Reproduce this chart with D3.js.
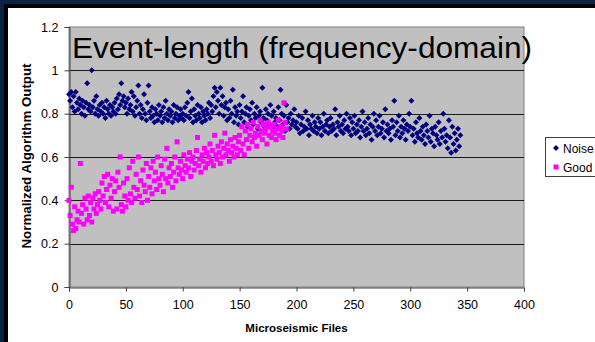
<!DOCTYPE html>
<html>
<head>
<meta charset="utf-8">
<script src="https://cdn.jsdelivr.net/npm/d3@7/dist/d3.min.js"></script>
<style>
  html, body { margin: 0; padding: 0; background: #ffffff; }
  svg { display: block; }
  text { font-family: Arial, "Liberation Sans", sans-serif; }
</style>
</head>
<body>
<svg id="chart" width="595" height="342"></svg>
<script>
// ---- data (x = file index, starting at 0) ----
const noiseValues = [
  0.89,0.86,0.90,0.83,0.88,0.81,0.90,0.85,0.82,0.87,
  0.84,0.80,0.86,0.83,0.79,0.85,0.94,0.82,0.84,0.81,
  1.00,0.83,0.86,0.80,0.88,0.82,0.79,0.84,0.81,0.85,
  0.80,0.83,0.78,0.86,0.82,0.80,0.84,0.79,0.83,0.81,
  0.85,0.80,0.87,0.82,0.89,0.84,0.94,0.86,0.88,0.83,
  0.85,0.80,0.87,0.82,0.84,0.90,0.81,0.88,0.79,0.83,
  0.86,0.93,0.80,0.84,0.78,0.82,0.89,0.80,0.77,0.85,
  0.93,0.81,0.78,0.83,0.79,0.76,0.82,0.80,0.77,0.84,
  0.79,0.81,0.76,0.83,0.78,0.86,0.80,0.77,0.82,0.79,
  0.81,0.76,0.84,0.78,0.80,0.83,0.77,0.79,0.82,0.78,
  0.80,0.77,0.83,0.79,0.85,0.90,0.78,0.81,0.87,0.76,
  0.82,0.79,0.77,0.84,0.80,0.78,0.83,0.76,0.81,0.79,
  0.77,0.82,0.80,0.85,0.78,0.84,0.81,0.88,0.92,0.83,
  0.90,0.86,0.80,0.92,0.84,0.88,0.79,0.83,0.85,0.77,
  0.82,0.78,0.86,0.80,0.91,0.76,0.83,0.79,0.81,0.75,
  0.84,0.78,0.81,0.88,0.76,0.80,0.83,0.74,0.79,0.82,
  0.77,0.85,0.75,0.80,0.78,0.83,0.73,0.79,0.81,0.76,
  0.92,0.78,0.74,0.82,0.77,0.80,0.75,0.84,0.79,0.73,
  0.81,0.76,0.78,0.74,0.83,0.77,0.91,0.80,0.75,0.79,
  0.72,0.84,0.76,0.78,0.73,0.80,0.75,0.77,0.82,0.74,
  0.76,0.73,0.79,0.71,0.75,0.78,0.72,0.74,0.81,0.73,
  0.77,0.70,0.75,0.73,0.79,0.72,0.76,0.74,0.71,0.78,
  0.73,0.76,0.70,0.74,0.80,0.72,0.75,0.77,0.71,0.74,
  0.78,0.72,0.75,0.73,0.82,0.70,0.76,0.74,0.79,0.72,
  0.75,0.71,0.77,0.73,0.80,0.74,0.72,0.78,0.70,0.76,
  0.73,0.79,0.71,0.75,0.72,0.77,0.69,0.74,0.81,0.72,
  0.76,0.70,0.73,0.78,0.71,0.75,0.68,0.74,0.80,0.72,
  0.77,0.70,0.74,0.79,0.71,0.73,0.76,0.69,0.82,0.72,
  0.75,0.71,0.73,0.68,0.77,0.74,0.86,0.70,0.76,0.72,
  0.79,0.69,0.74,0.71,0.77,0.73,0.68,0.75,0.72,0.80,
  0.74,0.86,0.70,0.73,0.67,0.76,0.71,0.69,0.78,0.72,
  0.68,0.74,0.70,0.66,0.75,0.72,0.69,0.79,0.67,0.73,
  0.71,0.65,0.74,0.70,0.68,0.76,0.66,0.72,0.69,0.80,
  0.73,0.67,0.70,0.64,0.77,0.69,0.62,0.74,0.66,0.71,
  0.63,0.68,0.73,0.65,0.70
];
const goodValues = [
  0.40,0.33,0.46,0.29,0.26,0.37,0.27,0.31,0.35,0.30,
  0.57,0.34,0.38,0.29,0.41,0.36,0.31,0.42,0.33,0.39,
  0.30,0.41,0.36,0.43,0.34,0.38,0.44,0.40,0.36,0.48,
  0.42,0.51,0.39,0.45,0.52,0.37,0.47,0.41,0.50,0.35,
  0.44,0.49,0.36,0.53,0.46,0.60,0.38,0.35,0.48,0.42,
  0.37,0.50,0.40,0.55,0.43,0.39,0.58,0.46,0.41,0.52,
  0.45,0.60,0.42,0.49,0.39,0.54,0.47,0.44,0.57,0.40,
  0.51,0.46,0.55,0.43,0.58,0.49,0.53,0.45,0.60,0.50,
  0.47,0.56,0.52,0.44,0.59,0.50,0.64,0.48,0.55,0.51,
  0.57,0.46,0.53,0.60,0.49,0.67,0.55,0.52,0.58,0.54,
  0.50,0.61,0.56,0.53,0.59,0.55,0.62,0.51,0.58,0.60,
  0.54,0.57,0.63,0.69,0.56,0.59,0.53,0.61,0.58,0.64,
  0.55,0.62,0.57,0.60,0.66,0.58,0.63,0.56,0.70,0.61,
  0.59,0.65,0.62,0.57,0.67,0.60,0.64,0.71,0.61,0.66,
  0.63,0.58,0.68,0.62,0.65,0.60,0.69,0.64,0.61,0.67,
  0.70,0.63,0.74,0.66,0.61,0.72,0.68,0.75,0.64,0.70,
  0.73,0.67,0.76,0.69,0.71,0.65,0.74,0.70,0.77,0.72,
  0.68,0.75,0.71,0.73,0.66,0.76,0.70,0.74,0.69,0.72,
  0.75,0.71,0.68,0.73,0.77,0.70,0.74,0.72,0.69,0.85,
  0.76,0.73
];
const xTicks = [0, 50, 100, 150, 200, 250, 300, 350, 400];
const yTicks = [0, 0.2, 0.4, 0.6, 0.8, 1, 1.2];
const seriesNames = ["Noise", "Good"];
const titleText = "Event-length (frequency-domain)";
const xTitle = "Microseismic Files";
const yTitle = "Normalized Algorithm Output";

// ---- layout ----
const svg = d3.select("#chart");
const W = 595, H = 342;
const plot = { left: 69, right: 524, top: 27, bottom: 287 };

// slide border (top & left)
svg.append("rect").attr("x", 0).attr("y", 0).attr("width", W).attr("height", H).attr("fill", "#ffffff");
svg.append("rect").attr("x", 0).attr("y", 0).attr("width", W).attr("height", 8).attr("fill", "#000000");
svg.append("rect").attr("x", 0).attr("y", 0).attr("width", 8).attr("height", H).attr("fill", "#000000");
svg.append("rect").attr("x", 0).attr("y", 0).attr("width", W).attr("height", 4).attr("fill", "#0c2444");
svg.append("rect").attr("x", 0).attr("y", 0).attr("width", 4).attr("height", H).attr("fill", "#0c2444");

const x = d3.scaleLinear().domain([0, 400]).range([plot.left, plot.right]);
const y = d3.scaleLinear().domain([0, 1.2]).range([plot.bottom, plot.top]);

// plot background
svg.append("rect")
  .attr("x", plot.left).attr("y", plot.top)
  .attr("width", plot.right - plot.left).attr("height", plot.bottom - plot.top)
  .attr("fill", "#c0c0c0").attr("stroke", "#808080").attr("stroke-width", 1);

// gridlines
svg.append("g").selectAll("line")
  .data(yTicks.filter(t => t > 0 && t < 1.2))
  .join("line")
  .attr("x1", plot.left).attr("x2", plot.right)
  .attr("y1", d => Math.round(y(d)) + 0.5).attr("y2", d => Math.round(y(d)) + 0.5)
  .attr("stroke", "#1a1a1a").attr("stroke-width", 1);

// title (drawn over plot)
svg.append("text")
  .attr("x", 72).attr("y", 58)
  .attr("font-size", 29)
  .attr("textLength", 460).attr("lengthAdjust", "spacingAndGlyphs")
  .attr("fill", "#000")
  .text(titleText);

// axes
const yAxis = d3.axisLeft(y).tickValues(yTicks).tickSize(5).tickPadding(6)
  .tickFormat(d => d === 0 ? "0" : (d === 1 ? "1" : d3.format(".1f")(d)));
const gy = svg.append("g").attr("transform", `translate(${plot.left + 0.5},0)`).call(yAxis);
gy.select(".domain").attr("stroke", "#404040");
gy.selectAll(".tick line").attr("stroke", "#404040");
gy.selectAll(".tick text").attr("font-size", 12.5).attr("fill", "#000")
  .attr("font-family", "Arial, 'Liberation Sans', sans-serif");

const xAxis = d3.axisBottom(x).tickValues(xTicks).tickSize(4).tickPadding(9);
const gx = svg.append("g").attr("transform", `translate(0,${plot.bottom + 0.5})`).call(xAxis);
gx.select(".domain").attr("stroke", "#404040");
gx.selectAll(".tick line").attr("stroke", "#404040");
gx.selectAll(".tick text").attr("font-size", 12.5).attr("fill", "#000")
  .attr("font-family", "Arial, 'Liberation Sans', sans-serif");

// axis titles
svg.append("text")
  .attr("x", (plot.left + plot.right) / 2).attr("y", 332)
  .attr("text-anchor", "middle").attr("font-size", 11.5).attr("font-weight", "bold")
  .text(xTitle);
svg.append("text")
  .attr("transform", `translate(31,${(plot.top + plot.bottom) / 2 - 1}) rotate(-90)`)
  .attr("text-anchor", "middle").attr("font-size", 12).attr("font-weight", "bold")
  .attr("textLength", 185).attr("lengthAdjust", "spacingAndGlyphs")
  .text(yTitle);

// markers
const diamond = "M0,-3L3,0L0,3L-3,0Z";
svg.append("g").selectAll("path")
  .data(noiseValues)
  .join("path")
  .attr("d", diamond)
  .attr("transform", (d, i) => `translate(${x(i)},${y(d)})`)
  .attr("fill", "#000080");

svg.append("g").selectAll("rect")
  .data(goodValues)
  .join("rect")
  .attr("x", (d, i) => x(i) - 2.5).attr("y", d => y(d) - 2.5)
  .attr("width", 5).attr("height", 5)
  .attr("fill", "#ff00ff");

// legend
const lg = svg.append("g");
lg.append("rect").attr("x", 545.5).attr("y", 137.5).attr("width", 60).attr("height", 39)
  .attr("fill", "#ffffff").attr("stroke", "#404040").attr("stroke-width", 1);
const legendY = [148, 167];
lg.append("path").attr("d", diamond).attr("transform", `translate(556,${legendY[0]})`).attr("fill", "#000080");
lg.append("rect").attr("x", 553.5).attr("y", legendY[1] - 2.5).attr("width", 5).attr("height", 5).attr("fill", "#ff00ff");
lg.selectAll("text.leg").data(seriesNames).join("text")
  .attr("class", "leg")
  .attr("x", 563).attr("y", (d, i) => legendY[i] + 4.5)
  .attr("font-size", 12).attr("fill", "#000")
  .text(d => d);
</script>
</body>
</html>
